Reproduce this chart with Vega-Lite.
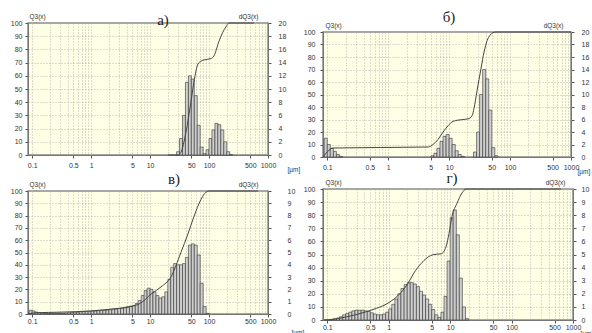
{
  "$schema": "https://vega.github.io/schema/vega-lite/v6.json",
  "background": "white",
  "padding": {"left": 9, "top": 9, "right": 0, "bottom": 0},
  "datasets": {
    "barsA": [{"x0":28.2,"x1":31.6,"dq":0.5},{"x0":31.6,"x1":35.5,"dq":2.5},{"x0":35.5,"x1":39.8,"dq":6},{"x0":39.8,"x1":44.7,"dq":11},{"x0":44.7,"x1":50.1,"dq":12},{"x0":50.1,"x1":56.2,"dq":11.5},{"x0":56.2,"x1":63.1,"dq":9},{"x0":63.1,"x1":70.8,"dq":4.5},{"x0":70.8,"x1":79.4,"dq":1.2},{"x0":79.4,"x1":89.1,"dq":0.2},{"x0":89.1,"x1":100,"dq":0.8},{"x0":100,"x1":112,"dq":2.5},{"x0":112,"x1":126,"dq":3.8},{"x0":126,"x1":141,"dq":4.8},{"x0":141,"x1":158,"dq":4.6},{"x0":158,"x1":178,"dq":3.8},{"x0":178,"x1":200,"dq":2},{"x0":200,"x1":224,"dq":0.5},{"x0":224,"x1":251,"dq":0.05}],
    "lineA": [{"x":20,"q":0},{"x":29.6,"q":0},{"x":33.3,"q":2},{"x":40.5,"q":17},{"x":49.2,"q":40},{"x":55.3,"q":55},{"x":65,"q":69},{"x":72.7,"q":71},{"x":81.7,"q":72},{"x":107,"q":73},{"x":121,"q":75},{"x":147,"q":86},{"x":171,"q":93},{"x":193,"q":97},{"x":217,"q":100},{"x":575,"q":100}],
    "barsB": [{"x0":0.0891,"x1":0.1,"dq":3},{"x0":0.1,"x1":0.112,"dq":2},{"x0":0.112,"x1":0.126,"dq":1.4},{"x0":0.126,"x1":0.141,"dq":0.9},{"x0":0.141,"x1":0.158,"dq":0.4},{"x0":0.158,"x1":0.178,"dq":0.1},{"x0":5.01,"x1":5.62,"dq":0.2},{"x0":5.62,"x1":6.31,"dq":0.6},{"x0":6.31,"x1":7.08,"dq":1.4},{"x0":7.08,"x1":7.94,"dq":2.5},{"x0":7.94,"x1":8.91,"dq":3.3},{"x0":8.91,"x1":10,"dq":3.6},{"x0":10,"x1":11.2,"dq":3},{"x0":11.2,"x1":12.6,"dq":2},{"x0":12.6,"x1":14.1,"dq":1},{"x0":14.1,"x1":15.8,"dq":0.4},{"x0":15.8,"x1":17.8,"dq":0.1},{"x0":25.1,"x1":28.2,"dq":0.8},{"x0":28.2,"x1":31.6,"dq":4},{"x0":31.6,"x1":35.5,"dq":10},{"x0":35.5,"x1":39.8,"dq":14},{"x0":39.8,"x1":44.7,"dq":12.5},{"x0":44.7,"x1":50.1,"dq":7.5},{"x0":50.1,"x1":56.2,"dq":1.5},{"x0":56.2,"x1":63.1,"dq":0.2}],
    "lineB": [{"x":0.085,"q":0},{"x":0.0952,"q":3},{"x":0.107,"q":5.5},{"x":0.124,"q":7.2},{"x":4.51,"q":8},{"x":5.44,"q":10},{"x":6.57,"q":14},{"x":7.94,"q":20},{"x":9.59,"q":25},{"x":11.6,"q":28.5},{"x":14,"q":29.5},{"x":20.4,"q":30.5},{"x":23.8,"q":33},{"x":25.6,"q":39},{"x":28.7,"q":53},{"x":33.4,"q":71},{"x":37.4,"q":84},{"x":41.9,"q":93},{"x":47,"q":97.5},{"x":52.6,"q":99.5},{"x":58.9,"q":100},{"x":1000,"q":100}],
    "barsC": [{"x0":0.0891,"x1":0.1,"dq":0.3},{"x0":0.1,"x1":0.112,"dq":0.25},{"x0":0.112,"x1":0.126,"dq":0.15},{"x0":0.126,"x1":0.141,"dq":0.1},{"x0":0.141,"x1":0.158,"dq":0.08},{"x0":0.158,"x1":0.178,"dq":0.06},{"x0":0.178,"x1":0.2,"dq":0.05},{"x0":0.2,"x1":0.224,"dq":0.05},{"x0":0.224,"x1":0.251,"dq":0.05},{"x0":0.251,"x1":0.282,"dq":0.05},{"x0":0.282,"x1":0.316,"dq":0.05},{"x0":0.316,"x1":0.355,"dq":0.05},{"x0":0.355,"x1":0.398,"dq":0.08},{"x0":0.398,"x1":0.447,"dq":0.1},{"x0":0.447,"x1":0.501,"dq":0.12},{"x0":0.501,"x1":0.562,"dq":0.15},{"x0":0.562,"x1":0.631,"dq":0.15},{"x0":0.631,"x1":0.708,"dq":0.18},{"x0":0.708,"x1":0.794,"dq":0.2},{"x0":0.794,"x1":0.891,"dq":0.2},{"x0":0.891,"x1":1,"dq":0.22},{"x0":1,"x1":1.12,"dq":0.25},{"x0":1.12,"x1":1.26,"dq":0.25},{"x0":1.26,"x1":1.41,"dq":0.28},{"x0":1.41,"x1":1.58,"dq":0.3},{"x0":1.58,"x1":1.78,"dq":0.3},{"x0":1.78,"x1":2,"dq":0.32},{"x0":2,"x1":2.24,"dq":0.35},{"x0":2.24,"x1":2.51,"dq":0.38},{"x0":2.51,"x1":2.82,"dq":0.4},{"x0":2.82,"x1":3.16,"dq":0.45},{"x0":3.16,"x1":3.55,"dq":0.5},{"x0":3.55,"x1":3.98,"dq":0.55},{"x0":3.98,"x1":4.47,"dq":0.6},{"x0":4.47,"x1":5.01,"dq":0.65},{"x0":5.01,"x1":5.62,"dq":0.7},{"x0":5.62,"x1":6.31,"dq":0.85},{"x0":6.31,"x1":7.08,"dq":1.1},{"x0":7.08,"x1":7.94,"dq":1.5},{"x0":7.94,"x1":8.91,"dq":1.9},{"x0":8.91,"x1":10,"dq":2.1},{"x0":10,"x1":11.2,"dq":2},{"x0":11.2,"x1":12.6,"dq":1.8},{"x0":12.6,"x1":14.1,"dq":1.5},{"x0":14.1,"x1":15.8,"dq":1.3},{"x0":15.8,"x1":17.8,"dq":1.4},{"x0":17.8,"x1":20,"dq":1.8},{"x0":20,"x1":22.4,"dq":2.8},{"x0":22.4,"x1":25.1,"dq":3.8},{"x0":25.1,"x1":28.2,"dq":4.1},{"x0":28.2,"x1":31.6,"dq":4},{"x0":31.6,"x1":35.5,"dq":4},{"x0":35.5,"x1":39.8,"dq":4.1},{"x0":39.8,"x1":44.7,"dq":4.6},{"x0":44.7,"x1":50.1,"dq":5.6},{"x0":50.1,"x1":56.2,"dq":5.7},{"x0":56.2,"x1":63.1,"dq":5.6},{"x0":63.1,"x1":70.8,"dq":4.8},{"x0":70.8,"x1":79.4,"dq":2.5},{"x0":79.4,"x1":89.1,"dq":0.6},{"x0":89.1,"x1":100,"dq":0.05}],
    "lineC": [{"x":0.085,"q":0},{"x":0.116,"q":1},{"x":0.308,"q":1.5},{"x":0.99,"q":2.5},{"x":2.17,"q":4},{"x":4.73,"q":6},{"x":7,"q":9},{"x":10.3,"q":16},{"x":15.3,"q":22},{"x":22.5,"q":30},{"x":33.3,"q":50},{"x":43.8,"q":65},{"x":55.3,"q":79},{"x":72.7,"q":93},{"x":88.4,"q":99},{"x":99.4,"q":100},{"x":673,"q":100}],
    "barsD": [{"x0":0.0891,"x1":0.1,"dq":0.01},{"x0":0.1,"x1":0.112,"dq":0.02},{"x0":0.112,"x1":0.126,"dq":0.05},{"x0":0.126,"x1":0.141,"dq":0.1},{"x0":0.141,"x1":0.158,"dq":0.15},{"x0":0.158,"x1":0.178,"dq":0.25},{"x0":0.178,"x1":0.2,"dq":0.4},{"x0":0.2,"x1":0.224,"dq":0.5},{"x0":0.224,"x1":0.251,"dq":0.6},{"x0":0.251,"x1":0.282,"dq":0.7},{"x0":0.282,"x1":0.316,"dq":0.75},{"x0":0.316,"x1":0.355,"dq":0.75},{"x0":0.355,"x1":0.398,"dq":0.75},{"x0":0.398,"x1":0.447,"dq":0.7},{"x0":0.447,"x1":0.501,"dq":0.65},{"x0":0.501,"x1":0.562,"dq":0.55},{"x0":0.562,"x1":0.631,"dq":0.45},{"x0":0.631,"x1":0.708,"dq":0.4},{"x0":0.708,"x1":0.794,"dq":0.4},{"x0":0.794,"x1":0.891,"dq":0.45},{"x0":0.891,"x1":1,"dq":0.6},{"x0":1,"x1":1.12,"dq":0.85},{"x0":1.12,"x1":1.26,"dq":1.2},{"x0":1.26,"x1":1.41,"dq":1.6},{"x0":1.41,"x1":1.58,"dq":2},{"x0":1.58,"x1":1.78,"dq":2.4},{"x0":1.78,"x1":2,"dq":2.7},{"x0":2,"x1":2.24,"dq":2.85},{"x0":2.24,"x1":2.51,"dq":2.85},{"x0":2.51,"x1":2.82,"dq":2.75},{"x0":2.82,"x1":3.16,"dq":2.55},{"x0":3.16,"x1":3.55,"dq":2.2},{"x0":3.55,"x1":3.98,"dq":1.9},{"x0":3.98,"x1":4.47,"dq":1.6},{"x0":4.47,"x1":5.01,"dq":1.2},{"x0":5.01,"x1":5.62,"dq":0.8},{"x0":5.62,"x1":6.31,"dq":0.4},{"x0":6.31,"x1":7.08,"dq":0.2},{"x0":7.08,"x1":7.94,"dq":0.6},{"x0":7.94,"x1":8.91,"dq":1.8},{"x0":8.91,"x1":10,"dq":4.5},{"x0":10,"x1":11.2,"dq":7.8},{"x0":11.2,"x1":12.6,"dq":8.4},{"x0":12.6,"x1":14.1,"dq":6.5},{"x0":14.1,"x1":15.8,"dq":3.2},{"x0":15.8,"x1":17.8,"dq":1},{"x0":17.8,"x1":20,"dq":0.1}],
    "lineD": [{"x":0.106,"q":0},{"x":0.187,"q":2},{"x":0.316,"q":4.5},{"x":0.554,"q":8},{"x":0.903,"q":12},{"x":1.22,"q":16},{"x":1.58,"q":21},{"x":2.06,"q":28},{"x":2.58,"q":36},{"x":3.35,"q":43},{"x":4.2,"q":47.5},{"x":5.46,"q":50},{"x":7.1,"q":50.5},{"x":8.57,"q":56},{"x":9.58,"q":66},{"x":10.7,"q":79},{"x":12.9,"q":89},{"x":15.6,"q":97},{"x":18.1,"q":100},{"x":639,"q":100}],
    "none": []
  },
  "config": {
    "view": {"stroke": "#8a8a8a", "strokeWidth": 1.5, "fill": "#FFFFE5"},
    "axis": {"labelFont": "Liberation Sans", "labelFontSize": 7, "labelColor": "#333333", "domainColor": "#777777", "tickColor": "#555555", "tickSize": 3, "titleFont": "Liberation Sans", "titleFontSize": 6.5, "titleFontWeight": "normal", "titleColor": "#333333", "gridColor": "#a8a8a8", "gridDash": [1, 2], "gridWidth": 0.8, "labelOverlap": false, "labelFlush": false, "labelBound": false},
    "title": {"font": "Liberation Serif", "fontSize": 15, "fontWeight": "normal", "color": "#222222"},
    "rect": {"fill": "#cfcfcf", "stroke": "#333333", "strokeWidth": 0.6},
    "line": {"color": "#444444", "strokeWidth": 1, "interpolate": "monotone"}
  },
  "spacing": -3,
  "hconcat": [
    {
      "spacing": -3,
      "vconcat": [
        {
          "title": {"text": "а)", "offset": -15, "dx": 15},
          "width": 240, "height": 132,
          "layer": [
            {"data": {"name": "barsA"}, "mark": {"type": "rect"},
             "encoding": {
               "x": {"field": "x0", "type": "quantitative", "scale": {"type": "log", "domain": [0.085, 1000], "nice": false},
                     "axis": {"values": [0.1,0.2,0.3,0.4,0.5,0.6,0.7,0.8,0.9,1,2,3,4,5,6,7,8,9,10,20,30,40,50,60,70,80,90,100,200,300,400,500,600,700,800,900,1000], "format": "~g", "labelExpr": "indexof([0.1,0.5,1,5,10,50,100,500,1000], datum.value) >= 0 ? datum.label : ''", "tickOpacity": {"condition": {"test": "indexof([0.1,0.5,1,5,10,50,100,500,1000], datum.value) >= 0", "value": 1}, "value": 0}, "grid": true, "labelPadding": 3, "title": "[µm]", "titleX": 259, "titleY": 14.5, "titleAlign": "left", "titleBaseline": "middle"}},
               "x2": {"field": "x1"},
               "y": {"field": "dq", "type": "quantitative", "scale": {"domain": [0, 20], "nice": false}, "axis": {"orient": "right", "values": [0,2,4,6,8,10,12,14,16,18,20], "grid": false, "labelPadding": 7, "title": "dQ3(x)", "titleAngle": 0, "titleX": -10, "titleY": -4, "titleAlign": "right", "titleBaseline": "bottom"}},
               "y2": {"datum": 0}
             }},
            {"data": {"name": "lineA"}, "mark": {"type": "line"},
             "encoding": {
               "x": {"field": "x", "type": "quantitative"},
               "y": {"field": "q", "type": "quantitative", "scale": {"domain": [0, 100], "nice": false}, "axis": {"orient": "left", "values": [0,10,20,30,40,50,60,70,80,90,100], "grid": true, "labelPadding": 3, "title": "Q3(x)", "titleAngle": 0, "titleX": 1, "titleY": -4, "titleAlign": "left", "titleBaseline": "bottom"}}
             }}
          ],
          "resolve": {"scale": {"y": "independent"}}
        },
        {
          "title": {"text": "в)", "offset": -6, "dx": 26},
          "width": 240, "height": 123,
          "layer": [
            {"data": {"name": "barsC"}, "mark": {"type": "rect"},
             "encoding": {
               "x": {"field": "x0", "type": "quantitative", "scale": {"type": "log", "domain": [0.085, 1000], "nice": false},
                     "axis": {"values": [0.1,0.2,0.3,0.4,0.5,0.6,0.7,0.8,0.9,1,2,3,4,5,6,7,8,9,10,20,30,40,50,60,70,80,90,100,200,300,400,500,600,700,800,900,1000], "format": "~g", "labelExpr": "indexof([0.1,0.5,1,5,10,50,100,500,1000], datum.value) >= 0 ? datum.label : ''", "tickOpacity": {"condition": {"test": "indexof([0.1,0.5,1,5,10,50,100,500,1000], datum.value) >= 0", "value": 1}, "value": 0}, "grid": true, "labelPadding": 0, "title": "[µm]", "titleX": 263, "titleY": 18, "titleAlign": "left", "titleBaseline": "middle"}},
               "x2": {"field": "x1"},
               "y": {"field": "dq", "type": "quantitative", "scale": {"domain": [0, 10], "nice": false}, "axis": {"orient": "right", "values": [0,1,2,3,4,5,6,7,8,9,10], "grid": false, "labelPadding": 16, "title": "dQ3(x)", "titleAngle": 0, "titleX": -10, "titleY": -4, "titleAlign": "right", "titleBaseline": "bottom"}},
               "y2": {"datum": 0}
             }},
            {"data": {"name": "lineC"}, "mark": {"type": "line"},
             "encoding": {
               "x": {"field": "x", "type": "quantitative"},
               "y": {"field": "q", "type": "quantitative", "scale": {"domain": [0, 100], "nice": false}, "axis": {"orient": "left", "values": [0,10,20,30,40,50,60,70,80,90,100], "grid": true, "labelPadding": 3, "title": "Q3(x)", "titleAngle": 0, "titleX": 1, "titleY": -4, "titleAlign": "left", "titleBaseline": "bottom"}}
             }}
          ],
          "resolve": {"scale": {"y": "independent"}}
        }
      ]
    },
    {
      "spacing": -6,
      "vconcat": [
        {
          "spacing": -15,
          "vconcat": [
            {"width": 248, "height": 1, "data": {"name": "none"}, "mark": {"type": "point"}, "encoding": {}, "view": {"stroke": null, "fill": null}},
            {
              "title": {"text": "б)", "offset": -3, "dx": 2},
              "width": 248, "height": 125,
              "layer": [
                {"data": {"name": "barsB"}, "mark": {"type": "rect"},
                 "encoding": {
                   "x": {"field": "x0", "type": "quantitative", "scale": {"type": "log", "domain": [0.085, 1000], "nice": false},
                         "axis": {"values": [0.1,0.2,0.3,0.4,0.5,0.6,0.7,0.8,0.9,1,2,3,4,5,6,7,8,9,10,20,30,40,50,60,70,80,90,100,200,300,400,500,600,700,800,900,1000], "format": "~g", "labelExpr": "indexof([0.1,0.5,1,5,10,50,100,500,1000], datum.value) >= 0 ? datum.label : ''", "tickOpacity": {"condition": {"test": "indexof([0.1,0.5,1,5,10,50,100,500,1000], datum.value) >= 0", "value": 1}, "value": 0}, "grid": true, "labelPadding": 3, "title": "[µm]", "titleX": 254, "titleY": 14.5, "titleAlign": "left", "titleBaseline": "middle"}},
                   "x2": {"field": "x1"},
                   "y": {"field": "dq", "type": "quantitative", "scale": {"domain": [0, 20], "nice": false}, "axis": {"orient": "right", "values": [0,2,4,6,8,10,12,14,16,18,20], "grid": false, "labelPadding": 7, "title": "dQ3(x)", "titleAngle": 0, "titleX": -8, "titleY": -4, "titleAlign": "right", "titleBaseline": "bottom"}},
                   "y2": {"datum": 0}
                 }},
                {"data": {"name": "lineB"}, "mark": {"type": "line"},
                 "encoding": {
                   "x": {"field": "x", "type": "quantitative"},
                   "y": {"field": "q", "type": "quantitative", "scale": {"domain": [0, 100], "nice": false}, "axis": {"orient": "left", "values": [0,10,20,30,40,50,60,70,80,90,100], "grid": true, "labelPadding": 5, "title": "Q3(x)", "titleAngle": 0, "titleX": 2, "titleY": -4, "titleAlign": "left", "titleBaseline": "bottom"}}
                 }}
              ],
              "resolve": {"scale": {"y": "independent"}}
            }
          ]
        },
        {
          "title": {"text": "г)", "offset": -7, "dx": 4},
          "width": 250, "height": 131,
          "layer": [
            {"data": {"name": "barsD"}, "mark": {"type": "rect"},
             "encoding": {
               "x": {"field": "x0", "type": "quantitative", "scale": {"type": "log", "domain": [0.085, 1000], "nice": false},
                     "axis": {"values": [0.1,0.2,0.3,0.4,0.5,0.6,0.7,0.8,0.9,1,2,3,4,5,6,7,8,9,10,20,30,40,50,60,70,80,90,100,200,300,400,500,600,700,800,900,1000], "format": "~g", "labelExpr": "indexof([0.1,0.5,1,5,10,50,100,500,1000], datum.value) >= 0 ? datum.label : ''", "tickOpacity": {"condition": {"test": "indexof([0.1,0.5,1,5,10,50,100,500,1000], datum.value) >= 0", "value": 1}, "value": 0}, "grid": true, "labelPadding": 0, "title": "[µm]", "titleX": 257, "titleY": 13, "titleAlign": "left", "titleBaseline": "middle"}},
               "x2": {"field": "x1"},
               "y": {"field": "dq", "type": "quantitative", "scale": {"domain": [0, 10], "nice": false}, "axis": {"orient": "right", "values": [0,1,2,3,4,5,6,7,8,9,10], "grid": false, "labelPadding": 5, "title": "dQ3(x)", "titleAngle": 0, "titleX": -8, "titleY": -4, "titleAlign": "right", "titleBaseline": "bottom"}},
               "y2": {"datum": 0}
             }},
            {"data": {"name": "lineD"}, "mark": {"type": "line"},
             "encoding": {
               "x": {"field": "x", "type": "quantitative"},
               "y": {"field": "q", "type": "quantitative", "scale": {"domain": [0, 100], "nice": false}, "axis": {"orient": "left", "values": [0,10,20,30,40,50,60,70,80,90,100], "grid": true, "labelPadding": 5, "title": "Q3(x)", "titleAngle": 0, "titleX": 2, "titleY": -4, "titleAlign": "left", "titleBaseline": "bottom"}}
             }}
          ],
          "resolve": {"scale": {"y": "independent"}}
        }
      ]
    }
  ]
}
